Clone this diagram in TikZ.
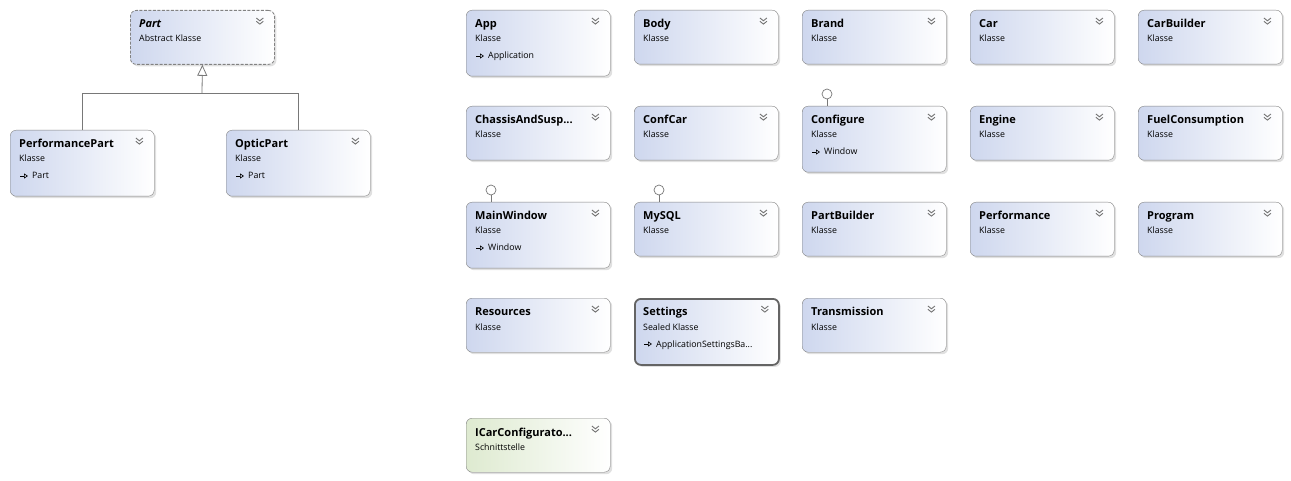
\documentclass[tikz,border=0pt]{standalone}
\usepackage{fontspec}
\setmainfont{Open Sans}
\usetikzlibrary{calc}
\usetikzlibrary{shadows}
\usetikzlibrary{arrows.meta}
\definecolor{class colour}{RGB}{206,215,238}
\definecolor{interface colour}{RGB}{222,234,208}
\definecolor{border colour}{RGB}{130,130,130}
\definecolor{selected colour}{RGB}{100,100,100}
\definecolor{line colour}{RGB}{120,120,120}
\tikzset{
    % Boxes of the class diagram
    class/.style={
        draw=border colour, rounded corners=6pt, anchor=north west,
        left color=class colour, right color=white, inner sep=0,
        minimum width=144pt, minimum height=54pt,
        drop shadow={shadow xshift=2pt, shadow yshift=-2pt,
            opacity=0.2, fill=black!60}},
    tall class/.style={class, minimum height=66pt},
    abstract class/.style={class, dash pattern=on 3pt off 1.5pt, line width=0.8pt},
    selected class/.style={tall class, draw=selected colour, line width=1.8pt},
    interface/.style={class, left color=interface colour},
%
    % Texts in the boxes
    class title/.style={anchor=base west, inner sep=0,
        font=\fontsize{11}{12}\selectfont\bfseries},
    class kind/.style={anchor=base west, inner sep=0,
        font=\fontsize{8.8}{10}\selectfont},
%
    % Lines
    chevron line/.style={draw=black!55, line width=0.9pt},
    inh arrow/.style={black, line width=0.6pt,
        -{Triangle[open, length=4pt, width=5pt]}},
    generalisation/.style={draw=line colour, line width=0.8pt},
    lolli/.style={draw=line colour, circle, fill=white, inner sep=0,
        minimum size=10pt, line width=0.7pt},
%
    pics/chevron/.style={
        code={
            \draw [chevron line] (-3.5,0) -- (0,2.8) -- (3.5,0);
            \draw [chevron line] (-3.5,3.3) -- (0,6.1) -- (3.5,3.3);}},
}
% A box with title, kind and the collapse chevron
\newcommand{\umlclass}[5][class]{%
    \node [#1] (#2) at (#3) {};
    \node [class title] at ($(#2.north west)+(9,18)$) {#4};
    \node [class kind] at ($(#2.north west)+(9,32)$) {#5};
    \pic at ($(#2.north east)+(-15,8)$) {chevron};
}
% Base class line under the kind
\newcommand{\umlbase}[2]{%
    \coordinate (#1 inh) at ($(#1.north west)+(10,46)$);
    \draw [inh arrow] (#1 inh) -- ++(8,0);
    \node [class kind] at ($(#1.north west)+(22,49)$) {#2};
}
% Lollipop of an implemented interface
\newcommand{\umllolli}[1]{%
    \node [lolli] (#1 if) at ($(#1.north west)+(25,-12)$) {};
    \draw [generalisation] (#1 if) -- (#1 if |- #1.north);
}

\begin{document}
\begin{tikzpicture}[x=1pt, y=-1pt]

\useasboundingbox [fill=white] (0,0) rectangle (1291,481);

% Part hierarchy
\umlclass[abstract class]{part}{130,10}{\itshape Part}{Abstract Klasse}
\umlclass[tall class]{perf}{10,130}{PerformancePart}{Klasse}
\umlbase{perf}{Part}
\umlclass[tall class]{optic}{226,130}{OpticPart}{Klasse}
\umlbase{optic}{Part}

\coordinate (join) at (202,93);
\draw [generalisation] (perf.north) |- (join);
\draw [generalisation] (optic.north) |- (join);
\draw [generalisation, -{Triangle[open, length=11pt, width=10pt]}]
    (join) -- (part.south);

% Row 1
\umlclass[tall class]{app}{466,10}{App}{Klasse}
\umlbase{app}{Application}
\umlclass{body}{634,10}{Body}{Klasse}
\umlclass{brand}{802,10}{Brand}{Klasse}
\umlclass{car}{970,10}{Car}{Klasse}
\umlclass{carbuilder}{1138,10}{CarBuilder}{Klasse}

% Row 2
\umlclass{chassis}{466,106}{ChassisAndSusp...}{Klasse}
\umlclass{confcar}{634,106}{ConfCar}{Klasse}
\umlclass[tall class]{configure}{802,106}{Configure}{Klasse}
\umlbase{configure}{Window}
\umllolli{configure}
\umlclass{engine}{970,106}{Engine}{Klasse}
\umlclass{fuel}{1138,106}{FuelConsumption}{Klasse}

% Row 3
\umlclass[tall class]{mainwindow}{466,202}{MainWindow}{Klasse}
\umlbase{mainwindow}{Window}
\umllolli{mainwindow}
\umlclass{mysql}{634,202}{MySQL}{Klasse}
\umllolli{mysql}
\umlclass{partbuilder}{802,202}{PartBuilder}{Klasse}
\umlclass{performance}{970,202}{Performance}{Klasse}
\umlclass{program}{1138,202}{Program}{Klasse}

% Row 4
\umlclass{resources}{466,298}{Resources}{Klasse}
\umlclass[selected class]{settings}{634,298}{Settings}{Sealed Klasse}
\umlbase{settings}{ApplicationSettingsBa...}
\umlclass{transmission}{802,298}{Transmission}{Klasse}

% Interface
\umlclass[interface]{icar}{466,418}{ICarConfigurato...}{Schnittstelle}

\end{tikzpicture}
\end{document}
